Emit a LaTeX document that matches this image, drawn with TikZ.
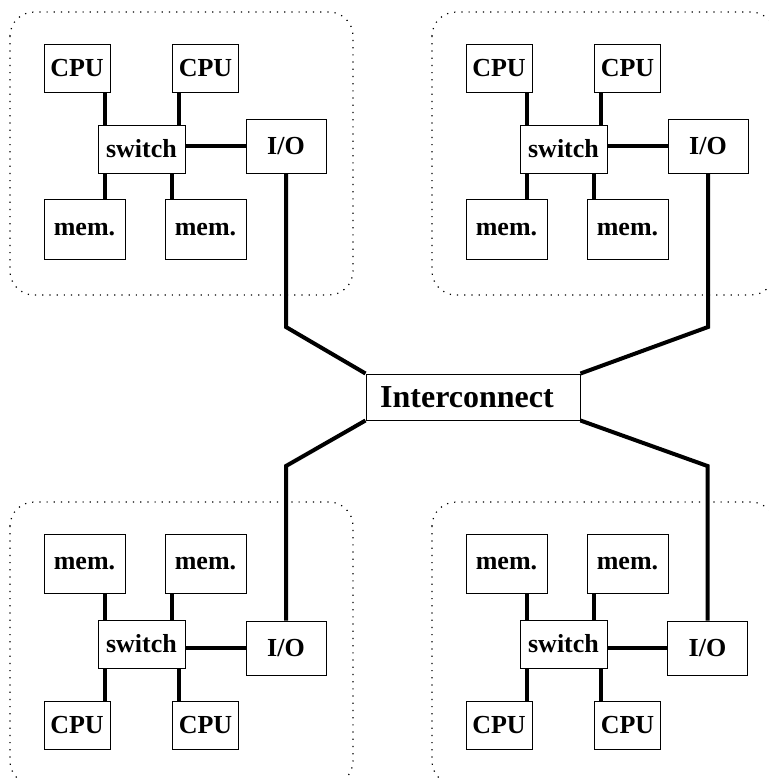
\documentclass[tikz,border=0pt]{standalone}
\usepackage{fontspec}
\setmainfont{Liberation Serif}
\usetikzlibrary{calc}
\tikzset{
  unit/.style={rectangle, draw=black, fill=white, line width=0.5pt, inner sep=0pt,
               font=\fontsize{13}{15}\selectfont\bfseries},
  cpubox/.style={unit, minimum width=33pt, minimum height=24pt},
  membox/.style={unit, minimum width=40.5pt, minimum height=29.75pt},
  swbox/.style={unit, minimum width=43.5pt, minimum height=24pt},
  iobox/.style={unit, minimum width=40pt, minimum height=27pt},
  netbox/.style={unit, minimum width=107pt, minimum height=23pt,
                 font=\fontsize{16}{19}\selectfont\bfseries},
  link/.style={draw=black, line width=2pt},
  smp/.style={draw=black, line width=0.6pt, dash pattern=on 0.6pt off 3pt, rounded corners=12pt},
}
\begin{document}
\begin{tikzpicture}[x=0.5pt, y=-0.5pt]
\useasboundingbox (0,0) rectangle (768,778);
\clip (0,0) rectangle (768,778);

\draw[smp] (10,12) rectangle (353,295);
\draw[smp] (432,12) rectangle (775,295);
\draw[smp] (10,502) rectangle (353,785);
\draw[smp] (432,502) rectangle (775,785);

\node[netbox] (net) at (473,397) {Interconnect\kern6pt};

% top left
\node[cpubox] (tl-cpu1) at (77,68) {CPU};
\node[cpubox] (tl-cpu2) at (205.5,68) {CPU};
\node[swbox] (tl-sw) at (141.5,149) {switch};
\node[iobox] (tl-io) at (286,146) {I/O};
\node[membox] (tl-mem1) at (84.5,229.5) {mem.};
\node[membox] (tl-mem2) at (205.5,229.5) {mem.};

% top right
\node[cpubox] (tr-cpu1) at (499,68) {CPU};
\node[cpubox] (tr-cpu2) at (627.5,68) {CPU};
\node[swbox] (tr-sw) at (563.5,149) {switch};
\node[iobox] (tr-io) at (708,146) {I/O};
\node[membox] (tr-mem1) at (506.5,229.5) {mem.};
\node[membox] (tr-mem2) at (627.5,229.5) {mem.};

% bottom left
\node[membox] (bl-mem1) at (84.5,564) {mem.};
\node[membox] (bl-mem2) at (205.5,564) {mem.};
\node[swbox] (bl-sw) at (141.5,644) {switch};
\node[iobox] (bl-io) at (286,648) {I/O};
\node[cpubox] (bl-cpu1) at (77,725) {CPU};
\node[cpubox] (bl-cpu2) at (205.5,725) {CPU};

% bottom right
\node[membox] (br-mem1) at (506.5,564) {mem.};
\node[membox] (br-mem2) at (627.5,564) {mem.};
\node[swbox] (br-sw) at (563.5,644) {switch};
\node[iobox] (br-io) at (707.5,648) {I/O};
\node[cpubox] (br-cpu1) at (499,725) {CPU};
\node[cpubox] (br-cpu2) at (627.5,725) {CPU};

\draw[link] ([xshift=3.5pt]tl-sw.north west) -- ([xshift=3.5pt]tl-cpu1.south -| tl-sw.west);
\draw[link] ([xshift=3.5pt]tl-cpu2.south west) -- ([xshift=3.5pt]tl-sw.north -| tl-cpu2.west);
\draw[link] ([xshift=3.5pt]tl-sw.south west) -- ([xshift=3.5pt]tl-mem1.north -| tl-sw.west);
\draw[link] ([xshift=3.5pt]tl-mem2.north west) -- ([xshift=3.5pt]tl-sw.south -| tl-mem2.west);
\draw[link] (tl-io.west) -- (tl-io.west -| tl-sw.east);

\draw[link] ([xshift=3.5pt]tr-sw.north west) -- ([xshift=3.5pt]tr-cpu1.south -| tr-sw.west);
\draw[link] ([xshift=3.5pt]tr-cpu2.south west) -- ([xshift=3.5pt]tr-sw.north -| tr-cpu2.west);
\draw[link] ([xshift=3.5pt]tr-sw.south west) -- ([xshift=3.5pt]tr-mem1.north -| tr-sw.west);
\draw[link] ([xshift=3.5pt]tr-mem2.north west) -- ([xshift=3.5pt]tr-sw.south -| tr-mem2.west);
\draw[link] (tr-io.west) -- (tr-io.west -| tr-sw.east);

\draw[link] ([xshift=3.5pt]bl-sw.north west) -- ([xshift=3.5pt]bl-mem1.south -| bl-sw.west);
\draw[link] ([xshift=3.5pt]bl-mem2.south west) -- ([xshift=3.5pt]bl-sw.north -| bl-mem2.west);
\draw[link] ([xshift=3.5pt]bl-sw.south west) -- ([xshift=3.5pt]bl-cpu1.north -| bl-sw.west);
\draw[link] ([xshift=3.5pt]bl-cpu2.north west) -- ([xshift=3.5pt]bl-sw.south -| bl-cpu2.west);
\draw[link] (bl-io.west) -- (bl-io.west -| bl-sw.east);

\draw[link] ([xshift=3.5pt]br-sw.north west) -- ([xshift=3.5pt]br-mem1.south -| br-sw.west);
\draw[link] ([xshift=3.5pt]br-mem2.south west) -- ([xshift=3.5pt]br-sw.north -| br-mem2.west);
\draw[link] ([xshift=3.5pt]br-sw.south west) -- ([xshift=3.5pt]br-cpu1.north -| br-sw.west);
\draw[link] ([xshift=3.5pt]br-cpu2.north west) -- ([xshift=3.5pt]br-sw.south -| br-cpu2.west);
\draw[link] (br-io.west) -- (br-io.west -| br-sw.east);

\coordinate (kneeT) at (0,327);
\coordinate (kneeB) at (0,466);
\draw[link] (tl-io.south) -- (tl-io.south |- kneeT) -- (net.north west);
\draw[link] (tr-io.south) -- (tr-io.south |- kneeT) -- (net.north east);
\draw[link] (bl-io.north) -- (bl-io.north |- kneeB) -- (net.south west);
\draw[link] (br-io.north) -- (br-io.north |- kneeB) -- (net.south east);
\end{tikzpicture}
\end{document}
